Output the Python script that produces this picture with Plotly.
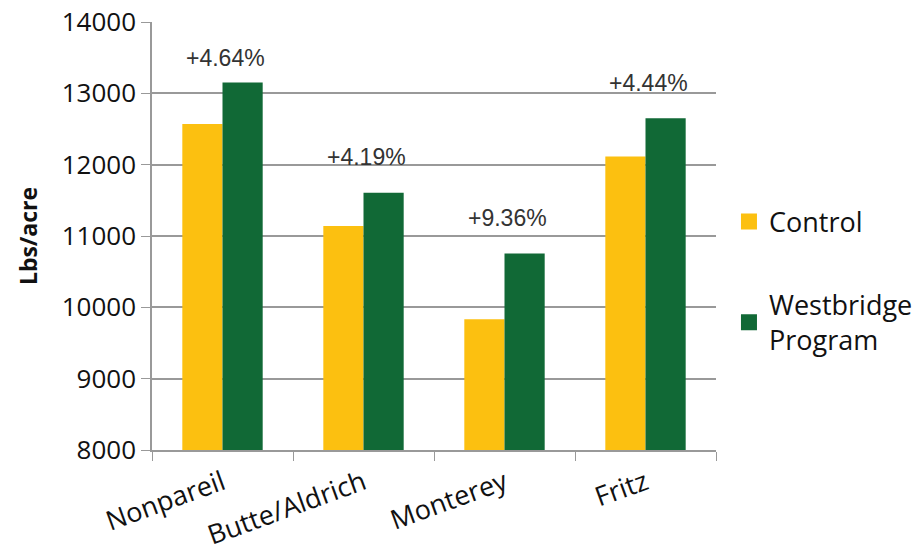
import plotly.graph_objects as go

categories = ["Nonpareil", "Butte/Aldrich", "Monterey", "Fritz"]
control = [12570, 11140, 9834, 12113]
westbridge = [13153, 11607, 10754, 12651]
pct_labels = ["+4.64%", "+4.19%", "+9.36%", "+4.44%"]
y_ticks = [8000, 9000, 10000, 11000, 12000, 13000, 14000]
y_tick_text = ["8000", "9000", "10000", "11000", "12000", "13000", "14000"]

YELLOW = "#FCC010"
GREEN = "#116936"
FONT = "Open Sans, Noto Sans, sans-serif"

fig = go.Figure()
fig.add_trace(go.Bar(x=categories, y=control, name="Control",
                     marker=dict(color=YELLOW, line=dict(width=0)),
                     showlegend=False))
fig.add_trace(go.Bar(x=categories, y=westbridge, name="Westbridge Program",
                     marker=dict(color=GREEN, line=dict(width=0)),
                     showlegend=False))
# legend entries (square swatches)
fig.add_trace(go.Scatter(x=[None], y=[None], mode="markers", name="Control",
                         marker=dict(symbol="square", size=16, color=YELLOW),
                         legendgroup="a"))
fig.add_trace(go.Scatter(x=[None], y=[None], mode="markers", name="Westbridge<br>Program",
                         marker=dict(symbol="square", size=16, color=GREEN),
                         legendgroup="b"))

for c, w, t in zip(categories, westbridge, pct_labels):
    fig.add_annotation(x=c, y=min(w + 500, 13500), text=t, showarrow=False,
                       xshift=3,
                       font=dict(family="Liberation Sans, Arial", size=23, color="#333333"))

fig.update_layout(
    width=919, height=552,
    margin=dict(l=152, r=203, t=22, b=102, autoexpand=False),
    paper_bgcolor="white", plot_bgcolor="white",
    barmode="group", bargap=0.43, bargroupgap=0,
    showlegend=True,
    legend=dict(x=1.023, y=0.59, xanchor="left", yanchor="top",
                font=dict(family=FONT, size=27, color="#111111"),
                tracegroupgap=45, itemwidth=30, bgcolor="rgba(0,0,0,0)"),
    font=dict(family=FONT, color="#111111"),
)
fig.update_yaxes(range=[8000, 14000], tickvals=y_ticks, ticktext=y_tick_text,
                 automargin=False, ticklabeloverflow="allow",
                 showgrid=True, gridcolor="#999999", gridwidth=1.5,
                 showline=True, linecolor="#999999", linewidth=1.5,
                 ticks="outside", ticklen=9, tickcolor="#999999",
                 tickfont=dict(family=FONT, size=26, color="#111111"),
                 title=dict(text="<b>Lbs/acre</b>", standoff=18,
                            font=dict(family=FONT, size=23, color="#111111")),
                 zeroline=False)
fig.update_xaxes(showline=True, linecolor="#999999", linewidth=1.5,
                 automargin=False, ticklabeloverflow="allow",
                 ticks="outside", tickson="boundaries", ticklen=9, tickcolor="#999999",
                 tickangle=-20, ticklabelstandoff=5,
                 tickfont=dict(family=FONT, size=27, color="#111111"))

fig.write_html("out.html",
               config={"displayModeBar": False},
               post_script="document.body.style.margin='0';document.body.style.overflow='hidden';")
